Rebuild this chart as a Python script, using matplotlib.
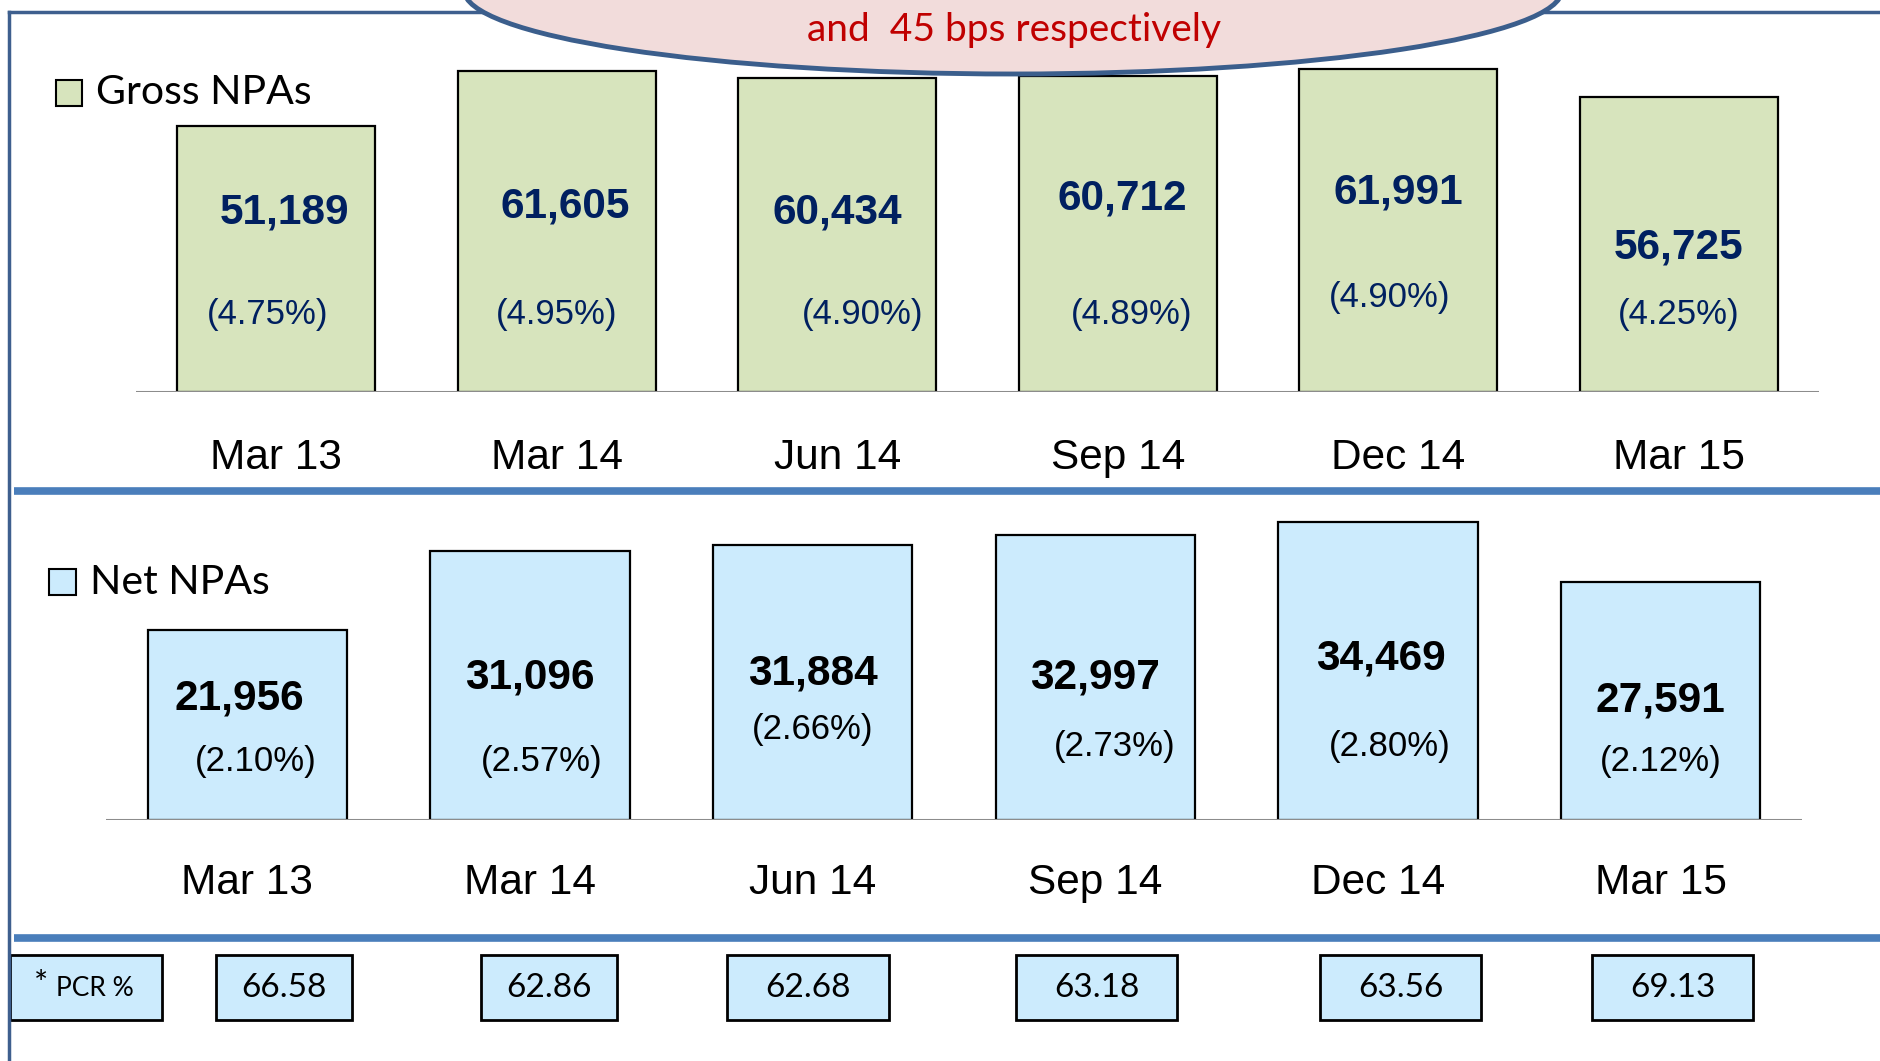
import matplotlib
matplotlib.use("Agg")
import matplotlib.pyplot as plt
from matplotlib.patches import Rectangle, Ellipse

# data
quarters = ["Mar 13", "Mar 14", "Jun 14", "Sep 14", "Dec 14", "Mar 15"]
gross_npa = [51189, 61605, 60434, 60712, 61991, 56725]
gross_pct = ["(4.75%)", "(4.95%)", "(4.90%)", "(4.89%)", "(4.90%)", "(4.25%)"]
net_npa = [21956, 31096, 31884, 32997, 34469, 27591]
net_pct = ["(2.10%)", "(2.57%)", "(2.66%)", "(2.73%)", "(2.80%)", "(2.12%)"]
pcr = ["66.58", "62.86", "62.68", "63.18", "63.56", "69.13"]
callout = "and  45 bps respectively"

# label placement (x offset from bar centre, y in data units)
gross_val_pos = [(0.03, 34500), (0.03, 35650), (0.0, 34500), (0.015, 37280), (0.0, 38430), (0.0, 27820)]
gross_pct_pos = [(-0.03, 14900), (0.0, 14900), (0.09, 14900), (0.05, 14900), (-0.03, 18140), (0.0, 14900)]
net_val_pos = [(-0.03, 14080), (0.0, 16450), (0.0, 17000), (0.0, 16450), (0.01, 18670), (0.0, 13800)]
net_pct_pos = [(0.03, 6720), (0.04, 6720), (0.0, 10470), (0.07, 8520), (0.04, 8520), (0.0, 6720)]
pcr_box_x = [(216, 352), (481, 617), (727, 889), (1016, 1177), (1320, 1481), (1592, 1753)]

NAVY = "#002060"
GREEN = "#D7E4BD"
BLUE = "#CCEBFD"
FRAME = "#3E5F8E"
SEP = "#4A7EBB"
W, H = 1881, 1061

fig = plt.figure(figsize=(W / 100, H / 100), dpi=100)
fig.patch.set_facecolor("white")


def px_axes(left, right, top, bottom):
    return fig.add_axes([left / W, 1 - bottom / H, (right - left) / W, (bottom - top) / H])


def bar_panel(ax, values, ymax, color, vals_pos, pct, pct_pos, txt_color, pad):
    x = range(len(values))
    ax.bar(x, values, width=0.705, color=color, edgecolor="black", linewidth=1.6, zorder=2)
    ax.set_xlim(-0.5, 5.5)
    ax.set_ylim(0, ymax)
    ax.axhline(0, color="#8C8C8C", linewidth=2.2, zorder=3)
    ax.set_facecolor("none")
    for s in ax.spines.values():
        s.set_visible(False)
    ax.set_yticks([])
    ax.set_xticks(list(x))
    ax.set_xticklabels(quarters, fontsize=30.5, family="Liberation Sans")
    ax.tick_params(axis="x", length=0, pad=pad)
    for i, v in enumerate(values):
        dx, y = vals_pos[i]
        ax.text(i + dx, y, f"{v:,}", ha="center", va="center", fontsize=30.5,
                fontweight="bold", color=txt_color, family="Liberation Sans", zorder=4)
        dx, y = pct_pos[i]
        ax.text(i + dx, y, pct[i], ha="center", va="center", fontsize=25,
                color=txt_color, family="Liberation Sans", zorder=4)


ax1 = px_axes(136, 1819, 60, 392)
bar_panel(ax1, gross_npa, 63800, GREEN, gross_val_pos, gross_pct, gross_pct_pos, NAVY, 33)

ax2 = px_axes(106, 1802, 500, 820)
bar_panel(ax2, net_npa, 37060, BLUE, net_val_pos, net_pct, net_pct_pos, "black", 31)

# overlay in pixel coordinates for frame, separators, legend and PCR row
ov = fig.add_axes([0, 0, 1, 1])
ov.set_xlim(0, W)
ov.set_ylim(H, 0)
ov.axis("off")
ov.set_facecolor("none")

ov.plot([8.5, 8.5], [12, H], color=FRAME, linewidth=2.5)
ov.plot([8.5, W], [12, 12], color=FRAME, linewidth=2.5)
ov.plot([14, W], [491, 491], color=SEP, linewidth=5.5, solid_capstyle="butt")
ov.plot([14, W], [938, 938], color=SEP, linewidth=5.5, solid_capstyle="butt")

ov.add_patch(Ellipse((1013, -10), 1098, 168, facecolor="#F2DCDB", edgecolor="#3B5E8C",
                     linewidth=3.5, zorder=5))
ov.text(1014, 30, callout, ha="center", va="center", fontsize=28, color="#C00000",
        family="Lato", zorder=6)

ov.add_patch(Rectangle((56, 80), 26, 26, facecolor=GREEN, edgecolor="black", linewidth=1.5))
ov.text(96, 93, "Gross NPAs", ha="left", va="center", fontsize=29.5, family="Lato")
ov.add_patch(Rectangle((49, 569), 27, 26, facecolor=BLUE, edgecolor="black", linewidth=1.5))
ov.text(90, 583, "Net NPAs", ha="left", va="center", fontsize=29.5, family="Lato")

ov.add_patch(Rectangle((10, 955), 152, 65, facecolor=BLUE, edgecolor="black", linewidth=2))
ov.text(34, 985, "*", ha="left", va="center", fontsize=24, family="Lato")
ov.text(56, 989, "PCR %", ha="left", va="center", fontsize=19, family="Lato")
for (x0, x1), val in zip(pcr_box_x, pcr):
    ov.add_patch(Rectangle((x0, 955), x1 - x0, 65, facecolor=BLUE, edgecolor="black", linewidth=2))
    ov.text((x0 + x1) / 2, 988, val, ha="center", va="center", fontsize=24, family="Lato")

fig.savefig("out.png", dpi=100)
